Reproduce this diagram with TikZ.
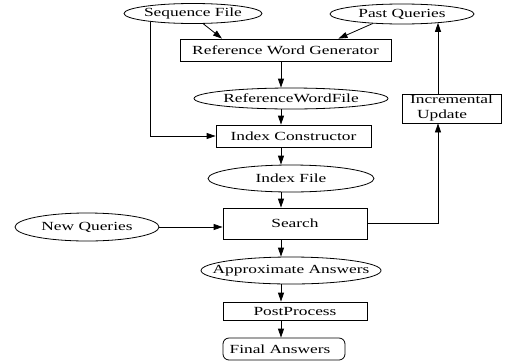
\documentclass[tikz,border=0pt]{standalone}
\usepackage{fontspec}
\setmainfont{Liberation Serif}[FakeStretch=1.40]
\usetikzlibrary{arrows.meta,shapes.geometric,calc}
\begin{document}
\begin{tikzpicture}[x=1pt,y=-1pt,
  every node/.style={font=\fontsize{12.4}{15}\selectfont},
  ell/.style={draw,ellipse,inner sep=0pt,line width=0.8pt},
  box/.style={draw,rectangle,inner sep=0pt,line width=0.8pt},
  arr/.style={line width=0.8pt,-{Triangle[length=9pt,width=6pt]}}]
\useasboundingbox (0,0) rectangle (505,362);
\coordinate (ax) at (281,0);
\coordinate (ux) at (438,0);
\node[ell,minimum width=138pt,minimum height=20pt,label=center:{Sequence File}] (seq) at (193,13.5) {};
\node[ell,minimum width=144pt,minimum height=20pt,label=center:{Past Queries}] (past) at (402,14) {};
\node[box,minimum width=211pt,minimum height=22pt] (rwg) at (285.5,50) {Reference Word Generator};
\node[ell,minimum width=194pt,minimum height=21pt,label=center:{ReferenceWordFile}] (rwf) at (291,98.5) {};
\node[box,minimum width=99pt,minimum height=29pt,align=left] (iu) at (451.5,108.5) {Incremental\\\hspace{7pt}Update};
\node[box,minimum width=155pt,minimum height=22pt] (ic) at (293.5,136) {Index Constructor};
\node[ell,minimum width=166pt,minimum height=27pt,label=center:{Index File}] (if) at (291,178.5) {};
\node[box,minimum width=144pt,minimum height=31pt] (search) at (295,223.5) {Search};
\node[ell,minimum width=144pt,minimum height=28pt,label=center:{New Queries}] (nq) at (87,227) {};
\node[ell,minimum width=180pt,minimum height=27pt,label=center:{Approximate Answers}] (aa) at (291,270.5) {};
\node[box,minimum width=144pt,minimum height=18pt] (pp) at (295,311) {PostProcess};
\node[box,rounded corners=6pt,minimum width=122pt,minimum height=22pt] (fa) at (284,349) {};
\node (fat) at (280,349) {Final Answers};
% connectors
\draw[arr] (seq.-45) -- ($(rwg.north west)!0.2!(rwg.north east)$);
\draw[arr] (past.-162) -- ($(rwg.north west)!0.75!(rwg.north east)$);
\draw[arr] (rwg.south -| ax) -- (rwf.north -| ax);
\draw[arr] (rwf.south -| ax) -- (ic.north -| ax);
\draw[arr] (seq.191) |- (ic.west);
\draw[arr] (ic.south -| ax) -- (if.north -| ax);
\draw[arr] (if.south -| ax) -- (search.north -| ax);
\draw[arr] (nq.east) -- (nq.east -| search.west);
\draw[arr] (search.east) -| (iu.south -| ux);
\draw[arr] (iu.north -| ux) -- (ux |- past.-13.6);
\draw[arr] (search.south -| ax) -- (aa.north -| ax);
\draw[arr] (aa.south -| ax) -- (pp.north -| ax);
\draw[arr] (pp.south -| ax) -- (fa.north -| ax);
\end{tikzpicture}
\end{document}
